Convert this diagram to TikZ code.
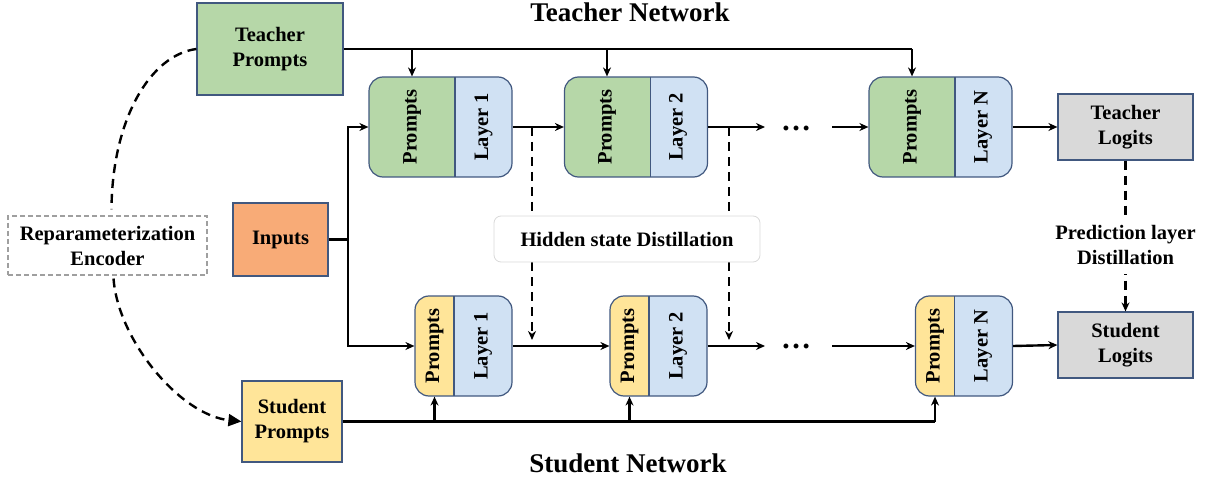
\documentclass[tikz,border=0pt]{standalone}
\usepackage{fontspec}
\setmainfont{Liberation Serif}
\usetikzlibrary{arrows.meta,calc}
\definecolor{pgreen}{HTML}{B6D7A8}
\definecolor{lblue}{HTML}{D0E1F3}
\definecolor{pyellow}{HTML}{FFE599}
\definecolor{porange}{HTML}{F8AB77}
\definecolor{lgrey}{HTML}{D9D9D9}
\definecolor{bord}{HTML}{41587F}
\tikzset{
  box/.style={draw=bord, line width=1.2pt, align=center, inner sep=0pt},
  blk/.style={draw=bord, line width=1.2pt, rounded corners=14pt, fill=lblue, minimum height=100pt, inner sep=0pt},
  tblk/.style={blk, minimum width=143pt, path picture={
     \fill[pgreen, sharp corners] (path picture bounding box.north west) rectangle ([xshift=86pt]path picture bounding box.south west);
     \draw[bord, line width=1.2pt, sharp corners] ([xshift=86pt]path picture bounding box.north west) -- ([xshift=86pt]path picture bounding box.south west);}},
  sblk/.style={blk, minimum width=97pt, path picture={
     \fill[pyellow, sharp corners] (path picture bounding box.north west) rectangle ([xshift=39pt]path picture bounding box.south west);
     \draw[bord, line width=1.2pt, sharp corners] ([xshift=39pt]path picture bounding box.north west) -- ([xshift=39pt]path picture bounding box.south west);}},
  vlabel/.style={rotate=90, inner sep=0pt},
  dots/.style={inner sep=0pt, font=\fontsize{30}{30}\selectfont\bfseries},
  ln/.style={line width=2.4pt},
  arr/.style={line width=2.4pt, -{Stealth[length=9pt,width=8pt]}},
  dsharr/.style={line width=2.4pt, dash pattern=on 9pt off 6pt, -{Stealth[length=9pt,width=8pt]}},
  curv/.style={line width=2.4pt, dash pattern=on 9pt off 6pt},
}
\begin{document}
\begin{tikzpicture}[x=1pt, y=-1pt, font=\fontsize{20.5}{25}\selectfont\bfseries]
\useasboundingbox (0,0) rectangle (1210,481);

% titles
\node (ttl) at (630,12) {\fontsize{27}{30}\selectfont Teacher Network};
\node (stl) at (628,463) {\fontsize{27}{30}\selectfont Student Network};

% left boxes
\node[box, fill=pgreen, minimum width=146pt, minimum height=92pt] (tp) at (270,49) {Teacher\\Prompts};
\node[box, fill=porange, minimum width=95pt, minimum height=73pt] (in) at (280.5,239.5) {Inputs};
\node[box, fill=pyellow, minimum width=100pt, minimum height=81pt] (sp) at (292,421.5) {Student\\Prompts};
\node[draw=gray!75, dash pattern=on 5pt off 3pt, line width=1.1pt, align=center, inner sep=0pt,
      minimum width=199pt, minimum height=59pt] (enc) at (107.5,245.5) {Reparameterization\\Encoder};

% teacher blocks
\node[tblk] (t1) at (440.5,127) {};
\node[vlabel] (t1p) at (412,127) {Prompts};
\node[vlabel] (t1l) at (483.5,127) {Layer 1};
\node[tblk] (t2) at (636,127) {};
\node[vlabel] (t2p) at (607,127) {Prompts};
\node[vlabel] (t2l) at (678,127) {Layer 2};
\node[tblk] (tN) at (940.5,127) {};
\node[vlabel] (tNp) at (912,127) {Prompts};
\node[vlabel] (tNl) at (983,127) {Layer N};

% student blocks
\node[sblk] (s1) at (463.5,346) {};
\node[vlabel] (s1p) at (434.5,346) {Prompts};
\node[vlabel] (s1l) at (483,346) {Layer 1};
\node[sblk] (s2) at (658.5,346) {};
\node[vlabel] (s2p) at (629.5,346) {Prompts};
\node[vlabel] (s2l) at (678,346) {Layer 2};
\node[sblk] (sN) at (964,346) {};
\node[vlabel] (sNp) at (935,346) {Prompts};
\node[vlabel] (sNl) at (983,346) {Layer N};

% logits
\node[box, fill=lgrey, minimum width=135pt, minimum height=66pt] (tl) at (1125.5,127) {Teacher\\Logits};
\node[box, fill=lgrey, minimum width=135pt, minimum height=66pt] (sl) at (1125.5,345) {Student\\Logits};

% dots
\node[dots] (td) at (796,128) {…};
\node[dots] (sd) at (796,346) {…};
\coordinate (ta) at (765,127);
\coordinate (tb) at (832,127);
\coordinate (sa) at (765,346);
\coordinate (sb) at (832,346);

% teacher prompts feed
\draw[ln] (tp.east) -- (tNp |- tp.east);
\draw[arr] (t1p |- tp.east) -- (t1p |- t1.north);
\draw[arr] (t2p |- tp.east) -- (t2p |- t2.north);
\draw[arr] (tNp |- tp.east) -- (tNp |- tN.north);

% student prompts feed
\draw[ln] (sp.east) -- (sNp |- sp.east);
\draw[arr] (s1p |- sp.east) -- (s1p |- s1.south);
\draw[arr] (s2p |- sp.east) -- (s2p |- s2.south);
\draw[arr] (sNp |- sp.east) -- (sNp |- sN.south);

% inputs
\coordinate (j) at (348,239.5);
\draw[ln] (in.east) -- (j);
\draw[arr] (j) |- (t1.west);
\draw[arr] (j) |- (s1.west);

% teacher chain
\draw[arr] (t1.east) -- (t2.west);
\draw[arr] (t2.east) -- (ta);
\draw[arr] (tb) -- (tN.west);
\draw[arr] (tN.east) -- (tl.west);

% student chain
\draw[arr] (s1.east) -- (s2.west);
\draw[arr] (s2.east) -- (sa);
\draw[arr] (sb) -- (sN.west);
\draw[arr] (sN.east) -- (sl.west);

% hidden state distillation
\coordinate (h1a) at (532,127);
\coordinate (h1b) at (532,340);
\coordinate (h2a) at (729,127);
\coordinate (h2b) at (729,340);
\draw[dsharr] (h1a) -- (h1b);
\draw[dsharr] (h2a) -- (h2b);
\node[draw=gray!30, rounded corners=7pt, fill=white, line width=0.8pt, inner sep=0pt,
      minimum width=266pt, minimum height=46pt] (hs) at (627,239) {Hidden state Distillation};

% prediction layer distillation
\draw[dsharr] (tl.south) -- (sl.north);
\node[fill=white, align=center, inner xsep=2pt, inner ysep=9pt] (pd) at (1125.5,245) {Prediction layer\\Distillation};

% reparameterization curves
\draw[curv] (tp.west) .. controls (150,55) and (112,120) .. ([xshift=4pt,yshift=6pt]enc.north);
\draw[curv, -{Triangle[length=13pt,width=12pt]}] ([xshift=6pt,yshift=-3pt]enc.south) .. controls (118,340) and (180,415) .. (sp.west);
\end{tikzpicture}
\end{document}
